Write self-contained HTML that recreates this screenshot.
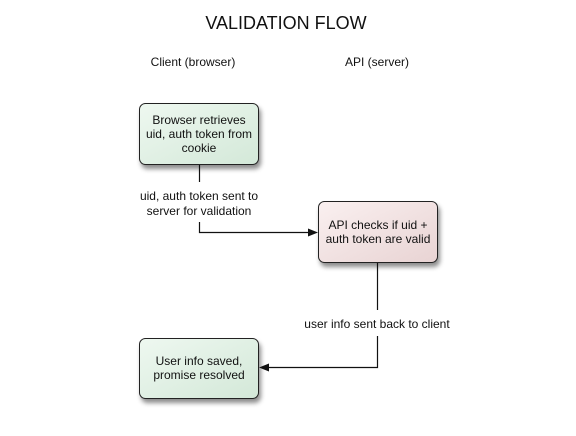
<!DOCTYPE html>
<html><head><meta charset="utf-8"><style>
html,body{margin:0;padding:0;background:#fff;}
svg{display:block;font-family:"Liberation Sans",Arial,sans-serif;}
</style></head><body>
<svg width="576" height="436" viewBox="0 0 576 436" xmlns="http://www.w3.org/2000/svg">
<defs>
<linearGradient id="g" x1="0" y1="0" x2="1" y2="1"><stop offset="0" stop-color="#eef8f0"/><stop offset="1" stop-color="#d3e8d8"/></linearGradient>
<linearGradient id="p" x1="0" y1="0" x2="1" y2="1"><stop offset="0" stop-color="#faf0f0"/><stop offset="1" stop-color="#e8d3d3"/></linearGradient>
<filter id="s" x="-20%" y="-20%" width="150%" height="160%"><feDropShadow dx="2" dy="4" stdDeviation="2.5" flood-color="#000" flood-opacity="0.45"/></filter>
</defs>
<text x="286" y="29" font-size="18" text-anchor="middle" fill="#111">VALIDATION FLOW</text>
<text x="193" y="66" font-size="12" text-anchor="middle" fill="#111">Client (browser)</text>
<text x="377" y="66" font-size="12" text-anchor="middle" fill="#111">API (server)</text>

<rect x="139.5" y="103.5" width="119" height="61" rx="6" fill="url(#g)" stroke="#222" stroke-width="1" filter="url(#s)"/>
<g font-size="12" text-anchor="middle" fill="#111">
<text x="199" y="124">Browser retrieves</text>
<text x="199" y="138">uid, auth token from</text>
<text x="199" y="152">cookie</text>
</g>

<rect x="318.5" y="201.5" width="119" height="61" rx="6" fill="url(#p)" stroke="#222" stroke-width="1" filter="url(#s)"/>
<g font-size="12" text-anchor="middle" fill="#111">
<text x="378" y="229">API checks if uid +</text>
<text x="378" y="243">auth token are valid</text>
</g>

<rect x="139.5" y="338.5" width="119" height="60" rx="6" fill="url(#g)" stroke="#222" stroke-width="1" filter="url(#s)"/>
<g font-size="12" text-anchor="middle" fill="#111">
<text x="199" y="365">User info saved,</text>
<text x="199" y="379">promise resolved</text>
</g>

<g stroke="#111" stroke-width="1.2" fill="none">
<path d="M199.5 165 V182"/>
<path d="M199.5 222 V232.5 H310"/>
<path d="M377.5 263 V310"/>
<path d="M377.5 336 V367.5 H267"/>
</g>
<polygon points="318,232.5 308,228.5 308,236.5" fill="#111"/>
<polygon points="259,367.5 269,363.5 269,371.5" fill="#111"/>

<g font-size="12" text-anchor="middle" fill="#111">
<text x="199" y="200">uid, auth token sent to</text>
<text x="199" y="215">server for validation</text>
<text x="377" y="328">user info sent back to client</text>
</g>
</svg>
</body></html>
